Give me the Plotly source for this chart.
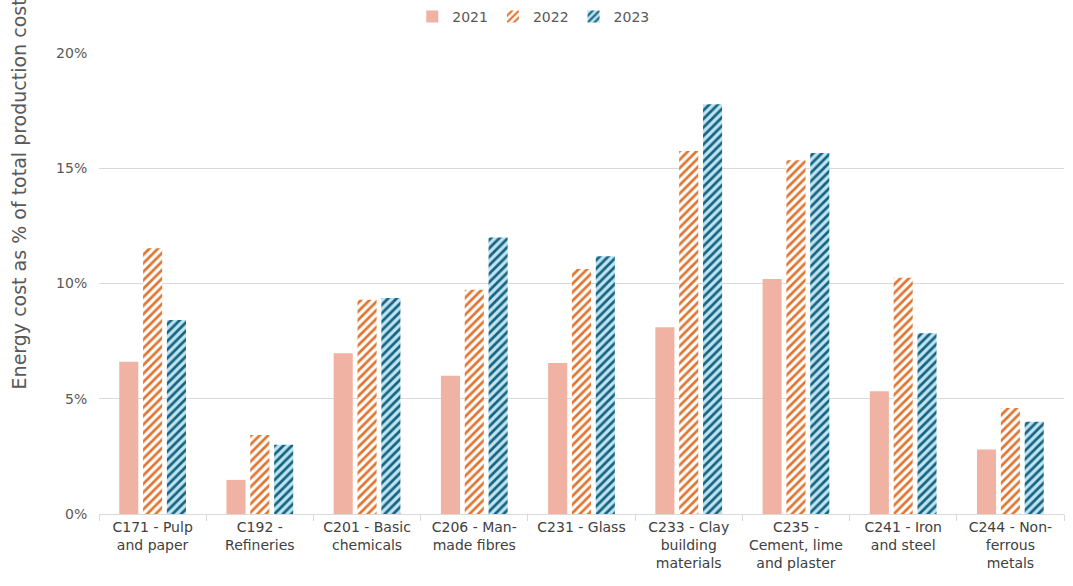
import plotly.graph_objects as go

# Sectors (NACE codes) shown on the x axis
categories = [
    "C171 - Pulp<br>and paper",
    "C192 -<br>Refineries",
    "C201 - Basic<br>chemicals",
    "C206 - Man-<br>made fibres",
    "C231 - Glass",
    "C233 - Clay<br>building<br>materials",
    "C235 -<br>Cement, lime<br>and plaster",
    "C241 - Iron<br>and steel",
    "C244 - Non-<br>ferrous<br>metals",
]

# Energy cost as share of total production costs (fraction)
share_2021 = [0.066, 0.0148, 0.0697, 0.060, 0.0655, 0.081, 0.102, 0.0532, 0.028]
share_2022 = [0.1153, 0.0343, 0.093, 0.0973, 0.1063, 0.1575, 0.1535, 0.1025, 0.046]
share_2023 = [0.0842, 0.030, 0.0937, 0.120, 0.1118, 0.1778, 0.1566, 0.0784, 0.040]

y_ticks = [0, 0.05, 0.10, 0.15, 0.20]
y_tick_labels = ["0%", "5%", "10%", "15%", "20%"]

FONT = "DejaVu Sans"
TXT = "#595959"

fig = go.Figure()
fig.add_trace(go.Bar(
    name="2021", x=categories, y=share_2021,
    marker=dict(color="#F0B2A2", line=dict(width=0)),
))
fig.add_trace(go.Bar(
    name="2022", x=categories, y=share_2022,
    marker=dict(
        color="#FFFFFF", line=dict(width=0),
        pattern=dict(shape="/", fgcolor="#E07430", bgcolor="#FFFFFF",
                     fgopacity=1, size=6, solidity=0.45, fillmode="overlay"),
    ),
))
fig.add_trace(go.Bar(
    name="2023", x=categories, y=share_2023,
    marker=dict(
        color="#BDE4F2", line=dict(width=0),
        pattern=dict(shape="/", fgcolor="#17627F", bgcolor="#BDE4F2",
                     fgopacity=1, size=6, solidity=0.45, fillmode="overlay"),
    ),
))

fig.update_layout(
    width=1073, height=586,
    margin=dict(l=99, r=9, t=53, b=72),
    paper_bgcolor="white", plot_bgcolor="white",
    barmode="group", bargap=0.333, bargroupgap=0.2,
    font=dict(family=FONT, size=14, color=TXT),
    legend=dict(
        orientation="h", xref="container", yref="container",
        x=0.497, xanchor="center", y=1 - 17 / 586, yanchor="middle",
        font=dict(size=14, color=TXT), itemwidth=30,
        traceorder="normal",
    ),
    xaxis=dict(
        tickson="boundaries", ticks="outside", ticklen=6, tickcolor="#D9D9D9",
        showline=True, linecolor="#D9D9D9", linewidth=1,
        tickfont=dict(size=14, color="#404040"), tickangle=0,
        showgrid=False, automargin=False,
    ),
    yaxis=dict(
        range=[0, 0.2], tickvals=y_ticks, ticktext=y_tick_labels,
        showgrid=True, gridcolor="#D9D9D9", gridwidth=1,
        zeroline=False, showline=False, automargin=False,
        tickfont=dict(size=14, color=TXT), ticklen=8, ticks="outside",
        tickcolor="rgba(0,0,0,0)",
    ),
    annotations=[dict(
        text="Energy cost as % of total production costs",
        xref="paper", yref="paper", x=-0.083, xanchor="center",
        y=(514 - 391) / 461, yanchor="bottom",
        textangle=-90, showarrow=False,
        font=dict(size=19, color=TXT, family=FONT),
    )],
)

fig.write_html("out.html")
